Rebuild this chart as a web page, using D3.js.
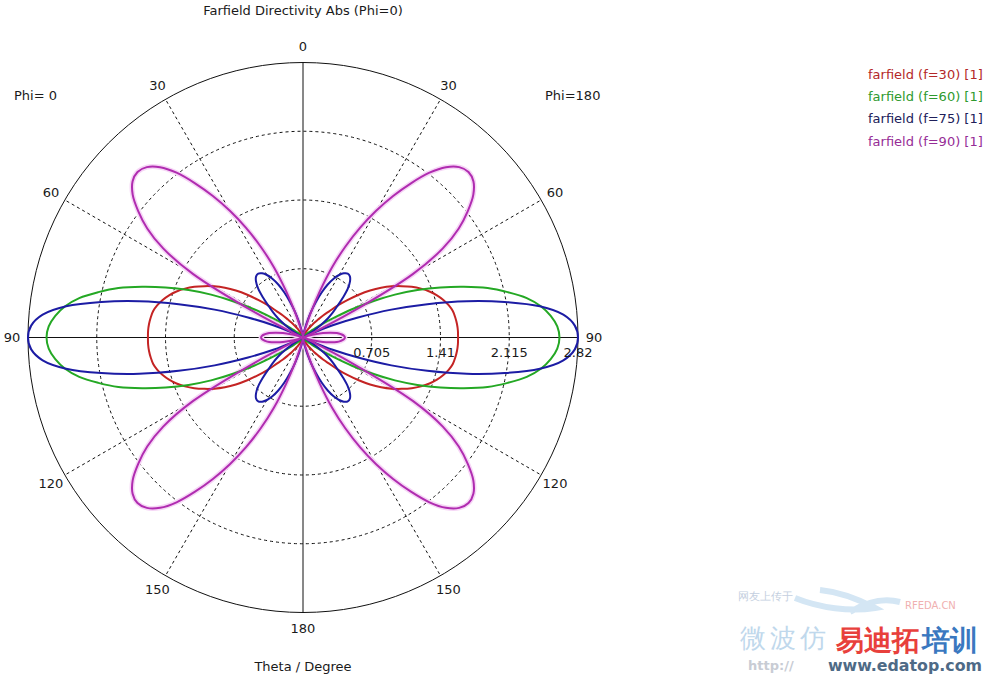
<!DOCTYPE html>
<html><head><meta charset="utf-8">
<script src="https://cdn.jsdelivr.net/npm/d3@7"></script>
<style>
body{margin:0;background:#fff;}
text{font-family:"DejaVu Sans",Verdana,sans-serif;}
</style>
</head><body>
<svg id="c" width="988" height="678"></svg>
<script>
// ---------- data (theta 0..90 deg, pattern is mirrored about 90 and about Phi=0 / Phi=180) ----------
const thetaStep = 2.5;
const thetaGrid = d3.range(0, 90 + 0.001, thetaStep);
const seriesNames = ["farfield (f=30) [1]", "farfield (f=60) [1]", "farfield (f=75) [1]", "farfield (f=90) [1]"];
const f30 = [0,0,0,0,0.005,0.007,0.01,0.015,0.02,0.03,0.04,0.06,0.08,0.11,0.14,0.19,0.24,0.31,0.38,0.49,0.6,0.72,0.84,0.95,1.05,1.14,1.23,1.31,1.38,1.44,1.49,1.53,1.56,1.575,1.585,1.59,1.59];
const f60 = [0,0,0,0,0,0,0,0.002,0.004,0.006,0.008,0.01,0.013,0.016,0.02,0.025,0.03,0.04,0.055,0.075,0.1,0.16,0.25,0.38,0.58,0.8,1.04,1.27,1.5,1.73,1.96,2.15,2.33,2.46,2.55,2.61,2.63];
const f75 = [0,0,0.01,0.03,0.05,0.1,0.18,0.28,0.39,0.5,0.6,0.68,0.74,0.78,0.8,0.79,0.75,0.68,0.58,0.48,0.4,0.32,0.22,0.12,0.05,0.03,0.1,0.33,0.6,0.95,1.32,1.72,2.1,2.45,2.68,2.79,2.82];
const f90 = [0,0,0.005,0.01,0.03,0.06,0.12,0.27,0.5,0.78,1.03,1.27,1.5,1.72,1.93,2.13,2.28,2.37,2.4,2.37,2.28,2.13,1.95,1.7,1.3,0.55,0.1,0.02,0.03,0.07,0.13,0.21,0.28,0.35,0.39,0.42,0.43];
const seriesValues = [f30, f60, f75, f90];
const lineColors = ["#c42424", "#24a824", "#1c1ca4", "#b02cb0"];
const legendColors = ["#b42828", "#2e9a2e", "#20205a", "#962c96"];
const radialTicks = [0.705, 1.41, 2.115, 2.82];
const radialTickLabels = ["0.705", "1.41", "2.115", "2.82"];
const angleTicks = [0, 30, 60, 90, 120, 150, 180];
const titleText = "Farfield Directivity Abs (Phi=0)";
const xAxisTitle = "Theta / Degree";

// ---------- layout ----------
const svg = d3.select("#c");
const cx = 303, cy = 337.5, R = 275;
const r = d3.scaleLinear().domain([0, 2.82]).range([0, R]);
const toRad = d => d * Math.PI / 180;
const g = svg.append("g").attr("transform", `translate(${cx},${cy})`);

// dashed grid circles
g.selectAll("circle.grid").data(radialTicks.slice(0, -1)).enter().append("circle")
  .attr("r", d => r(d)).attr("fill", "none").attr("stroke", "#111")
  .attr("stroke-width", 1).attr("stroke-dasharray", "3,3");
// dashed spokes (non-axis)
const spokeAngles = [30, 60, 120, 150, -30, -60, -120, -150];
g.selectAll("line.spoke").data(spokeAngles).enter().append("line")
  .attr("x1", 0).attr("y1", 0)
  .attr("x2", d => r(2.82) * Math.sin(toRad(d)))
  .attr("y2", d => -r(2.82) * Math.cos(toRad(d)))
  .attr("stroke", "#111").attr("stroke-width", 1).attr("stroke-dasharray", "3,3");
// outer circle
g.append("circle").attr("r", r(2.82)).attr("fill", "none").attr("stroke", "#111").attr("stroke-width", 1);
// solid axes
g.append("line").attr("x1", -R).attr("x2", R).attr("y1", 0).attr("y2", 0).attr("stroke", "#111");
g.append("line").attr("y1", -R).attr("y2", R).attr("x1", 0).attr("x2", 0).attr("stroke", "#111");

// ---------- curves ----------
function fullPattern(vals) {
  const n = thetaGrid.length;
  const pts = [];
  // right half (Phi=180): screen angle 0..180 = theta 0..180
  for (let i = 0; i < n; i++) pts.push([toRad(thetaGrid[i]), vals[i]]);
  for (let i = n - 2; i >= 0; i--) pts.push([toRad(180 - thetaGrid[i]), vals[i]]);
  // left half (Phi=0): screen angle 180..360 = theta 180..0
  for (let i = 1; i < n; i++) pts.push([toRad(180 + thetaGrid[i]), vals[i]]);
  for (let i = n - 2; i >= 1; i--) pts.push([toRad(360 - thetaGrid[i]), vals[i]]);
  return pts;
}
const radial = d3.lineRadial().angle(d => d[0]).radius(d => r(d[1]))
  .curve(d3.curveCatmullRomClosed.alpha(0.5));

// halo for magenta (as in the source image)
g.append("path").attr("d", radial(fullPattern(f90))).attr("fill", "none")
  .attr("stroke", "#f6d6f6").attr("stroke-width", 5);
seriesValues.forEach((vals, k) => {
  g.append("path").attr("d", radial(fullPattern(vals))).attr("fill", "none")
    .attr("stroke", lineColors[k]).attr("stroke-width", 2).attr("stroke-linejoin", "round");
});

// ---------- labels ----------
const labelR = 291;
const lab = svg.append("g").attr("font-size", 13).attr("fill", "#1a1a1a").attr("text-anchor", "middle");
angleTicks.forEach(a => {
  [1, -1].forEach(s => {
    if ((a === 0 || a === 180) && s === -1) return;
    lab.append("text")
      .attr("x", cx + s * labelR * Math.sin(toRad(a)))
      .attr("y", cy - labelR * Math.cos(toRad(a)))
      .attr("dy", "0.36em").text(a);
  });
});
radialTicks.forEach((v, i) => {
  lab.append("text").attr("x", cx + r(v)).attr("y", cy + 15)
    .attr("dy", "0.36em").text(radialTickLabels[i]);
});
lab.append("text").attr("x", cx).attr("y", 10).attr("dy", "0.36em").text(titleText);
lab.append("text").attr("x", cx).attr("y", 666).attr("dy", "0.36em").text(xAxisTitle);
lab.append("text").attr("x", 14).attr("y", 95).attr("dy", "0.36em").attr("text-anchor", "start").text("Phi=  0");
lab.append("text").attr("x", 545).attr("y", 95).attr("dy", "0.36em").attr("text-anchor", "start").text("Phi=180");

// legend
const leg = svg.append("g").attr("font-size", 13);
seriesNames.forEach((n, i) => {
  leg.append("text").attr("x", 868).attr("y", 74 + i * 22.3).attr("dy", "0.36em")
    .attr("fill", legendColors[i]).text(n);
});

// ---------- watermark ----------
const wm = svg.append("g");
wm.append("text").attr("x", 738).attr("y", 600).attr("font-size", 11)
  .attr("font-family", "Noto Sans CJK SC").attr("fill", "#c4cfe0").text("网友上传于");
wm.append("path").attr("d", "M795,598 C820,608 850,612 875,608 C860,600 840,592 820,590 M850,612 C870,600 885,598 900,602")
  .attr("fill", "none").attr("stroke", "#d4e6f4").attr("stroke-width", 6);
wm.append("text").attr("x", 905).attr("y", 609).attr("font-size", 10)
  .attr("font-family", "Liberation Sans").attr("fill", "#f0b0b0").text("RFEDA.CN");
wm.append("text").attr("x", 740).attr("y", 647).attr("font-size", 26)
  .attr("font-family", "Noto Sans CJK SC").attr("fill", "#c0d8ec").attr("letter-spacing", 4).text("微波仿");
wm.append("text").attr("x", 836).attr("y", 650).attr("font-size", 28).attr("font-weight", "bold")
  .attr("font-family", "Noto Sans CJK SC").attr("fill", "#e8403c").text("易迪拓");
wm.append("text").attr("x", 922).attr("y", 650).attr("font-size", 28).attr("font-weight", "bold")
  .attr("font-family", "Noto Sans CJK SC").attr("fill", "#3a78c0").text("培训");
wm.append("text").attr("x", 748).attr("y", 670).attr("font-size", 13).attr("font-weight", "bold")
  .attr("font-family", "DejaVu Sans Mono").attr("fill", "#c8ccd4").text("http://");
wm.append("text").attr("x", 828).attr("y", 671).attr("font-size", 16).attr("font-weight", "bold")
  .attr("font-family", "Liberation Sans").attr("fill", "#4e6a86")
  .attr("textLength", 154).attr("lengthAdjust", "spacingAndGlyphs").text("www.edatop.com");
</script>
</body></html>
